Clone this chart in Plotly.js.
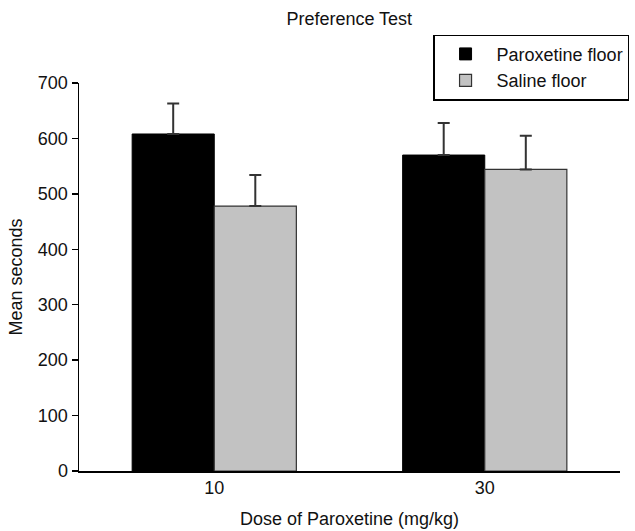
<!DOCTYPE html>
<html>
<head>
<meta charset="utf-8">
<script src="https://cdn.plot.ly/plotly-3.0.1.min.js"></script>
<style>html,body{margin:0;padding:0;background:#fff;}#chart{width:635px;height:531px;}</style>
</head>
<body>
<div id="chart"></div>
<script>
const doses = ['10', '30'];
const paroxetineFloor = [608, 570];
const paroxetineErr = [55, 58];
const salineFloor = [478, 544];
const salineErr = [56, 61];
const yTicks = [0, 100, 200, 300, 400, 500, 600, 700];

const font = {family: '"Liberation Sans", Arial, sans-serif', color: '#111'};

const traces = [
  {
    type: 'bar', name: 'Paroxetine floor', x: doses, y: paroxetineFloor,
    marker: {color: '#000000', line: {color: '#000000', width: 1}},
    error_y: {type: 'data', array: paroxetineErr, symmetric: false, arrayminus: [0, 0], color: '#333', thickness: 2, width: 6}
  },
  {
    type: 'bar', name: 'Saline floor', x: doses, y: salineFloor,
    marker: {color: '#c2c2c2', line: {color: '#333333', width: 1.2}},
    error_y: {type: 'data', array: salineErr, symmetric: false, arrayminus: [0, 0], color: '#333', thickness: 2, width: 6}
  }
];

const layout = {
  width: 635, height: 531,
  margin: {l: 79, r: 15, t: 83, b: 60, autoexpand: false},
  paper_bgcolor: '#fff', plot_bgcolor: '#fff',
  font: Object.assign({size: 18}, font),
  title: {text: 'Preference Test', x: 0.55, xanchor: 'center', y: 0.965, yanchor: 'middle', font: Object.assign({size: 18}, font)},
  barmode: 'group', bargap: 0.393, bargroupgap: 0,
  showlegend: true,
  legend: {
    x: 0.655, y: 1.125, xanchor: 'left', yanchor: 'top',
    bordercolor: '#000', borderwidth: 1.2, bgcolor: '#fff',
    font: Object.assign({size: 18}, font), tracegroupgap: 0, itemwidth: 52
  },
  xaxis: {
    type: 'category', range: [-0.5, 1.5],
    showline: true, linecolor: '#000', linewidth: 1.5,
    ticks: '', showgrid: false, zeroline: false,
    tickfont: Object.assign({size: 18}, font),
    title: {text: 'Dose of Paroxetine (mg/kg)', font: Object.assign({size: 18}, font), standoff: 15}
  },
  yaxis: {
    range: [0, 700], tickvals: yTicks, ticktext: yTicks.map(String),
    showline: true, linecolor: '#000', linewidth: 1.5,
    ticks: 'outside', ticklen: 6, tickwidth: 1.5, tickcolor: '#000',
    showgrid: false, zeroline: false,
    tickfont: Object.assign({size: 18}, font),
    title: {text: 'Mean seconds', font: Object.assign({size: 18}, font), standoff: 10}
  }
};

Plotly.newPlot('chart', traces, layout, {displayModeBar: false, staticPlot: true});
</script>
</body>
</html>
